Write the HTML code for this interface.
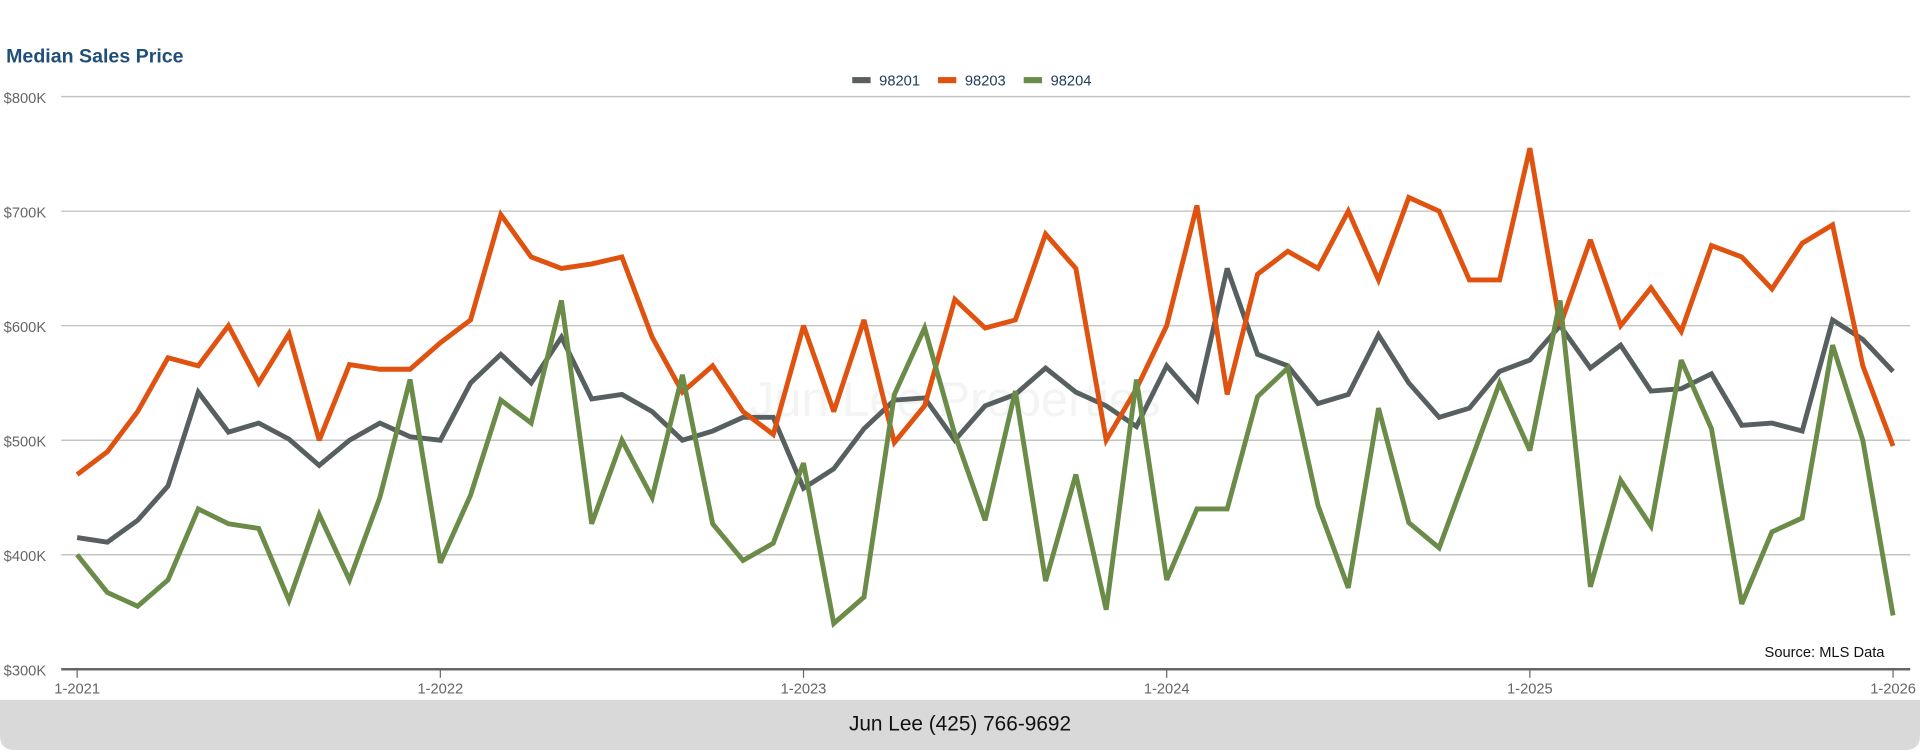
<!DOCTYPE html>
<html><head><meta charset="utf-8"><style>
html,body{margin:0;padding:0;background:#fff;width:1920px;height:750px;overflow:hidden}
svg{display:block;font-family:"Liberation Sans",sans-serif}
</style></head><body>
<svg id="chart" width="1920" height="750" viewBox="0 0 1568 613" preserveAspectRatio="none">
<text x="5" y="51" font-size="16" font-weight="bold" fill="#1f4e79">Median Sales Price</text>
<g id="legend"></g>
<g id="grid"></g>
<text x="780" y="340" font-size="40" fill="#f4f4f4" text-anchor="middle">Jun Lee Properties</text>
<g id="series"></g>
<g id="xaxis"></g>
<text x="1539" y="537" font-size="12" fill="#111" text-anchor="end">Source: MLS Data</text>
<path d="M0 572 H1568 V601 Q1568 613 1556 613 H12 Q0 613 0 601 Z" fill="#d9d9d9"/>
<text x="784" y="597" font-size="17" fill="#111" text-anchor="middle">Jun Lee (425) 766-9692</text>
</svg>
<script>
const seriesNames = ["98201","98203","98204"];
const seriesColors = ["#575f60","#e0520f","#6b8c48"];
const v98201 = [415,411,430,460,542,507,515,501,478,500,515,503,500,550,575,550,590,536,540,525,500,508,520,520,458,475,510,535,537,500,530,540,563,542,530,512,565,535,650,575,565,532,540,592,550,520,528,560,570,600,563,583,543,545,558,513,515,508,605,588,560];
const v98203 = [470,490,525,572,565,600,550,593,500,566,562,562,585,605,697,660,650,654,660,590,542,565,525,505,600,525,605,498,530,623,598,605,680,650,500,545,600,705,540,645,665,650,700,640,712,700,640,640,755,600,675,600,633,595,670,660,632,672,688,565,495];
const v98204 = [400,367,355,378,440,427,423,360,435,378,450,553,393,452,535,515,622,427,500,450,557,427,395,410,480,340,363,540,598,505,430,543,377,470,352,553,378,440,440,538,563,443,371,528,428,406,478,550,491,622,372,465,425,570,510,357,420,432,583,500,347];
const yTicks = [300,400,500,600,700,800];
const xTickLabels = ["1-2021","1-2022","1-2023","1-2024","1-2025","1-2026"];
const NS="http://www.w3.org/2000/svg";
const x0=63,x1=1546,yTop=79,yBot=547;
const xs=i=>x0+(x1-x0)*i/60;
const ys=v=>yBot-(v-300)/500*(yBot-yTop);
function mk(t,a,p){const e=document.createElementNS(NS,t);for(const k in a)e.setAttribute(k,a[k]);p.appendChild(e);return e;}
const grid=document.getElementById('grid');
yTicks.forEach(t=>{
  const l=mk('line',{x1:50,x2:1560,y1:ys(t),y2:ys(t),stroke:t===300?'#666':'#c4c4c4','stroke-width':t===300?2:1.2},grid);
  
  
  const tx=mk('text',{x:3,y:ys(t)+5,'font-size':12,fill:'#666'},grid);
  tx.textContent='$'+t+'K';
  
  
});
const xa=document.getElementById('xaxis');
xTickLabels.forEach((s,i)=>{
  const x=xs(i*12);
  const tk=mk('line',{x1:x,x2:x,y1:yBot,y2:yBot+7,stroke:'#666','stroke-width':1},xa);
  
  
  const tx=mk('text',{x:x,y:yBot+20,'font-size':12,fill:'#666','text-anchor':'middle'},xa);
  tx.textContent=s;
  
  
});
const sg=document.getElementById('series');
[v98201,v98203,v98204].forEach((arr,si)=>{
  const d=arr.map((v,i)=>(i?'L':'M')+xs(i).toFixed(1)+' '+ys(v).toFixed(1)).join(' ');
  const p=mk('path',{d:d,fill:'none',stroke:seriesColors[si],'stroke-width':4,'stroke-linejoin':'miter','stroke-miterlimit':3},sg);
  
  
});
const lg=document.getElementById('legend');
let lx=696;
seriesNames.forEach((n,i)=>{
  const r=mk('rect',{x:lx,y:63,width:15,height:5,fill:seriesColors[i]},lg);
  
  
  const t=mk('text',{x:lx+22,y:70,'font-size':12,fill:'#1f3a5a'},lg);
  t.textContent=n;
  
  
  lx+=70;
});
</script>
</body></html>
